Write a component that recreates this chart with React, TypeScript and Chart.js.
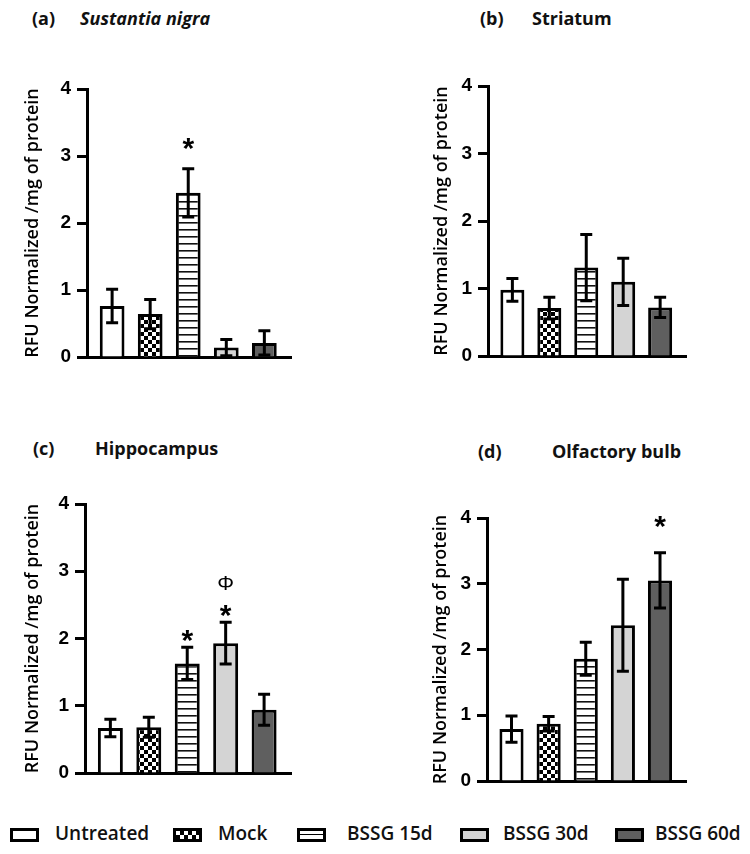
import React, { useEffect, useRef } from 'react';
import { Chart, registerables } from 'chart.js';

Chart.register(...registerables);

// ---------- data ----------
const categories = ['Untreated', 'Mock', 'BSSG 15d', 'BSSG 30d', 'BSSG 60d'];
const yTicks = [0, 1, 2, 3, 4];
const yAxisTitle = 'RFU Normalized /mg of protein';

const nigraMeans = [0.76, 0.64, 2.45, 0.14, 0.21];
const nigraErrors = [0.25, 0.22, 0.36, 0.12, 0.18];
const nigraMarks = [{ index: 2, text: '*', y: 3.21 }];

const striatumMeans = [0.98, 0.71, 1.31, 1.1, 0.72];
const striatumErrors = [0.17, 0.16, 0.49, 0.35, 0.15];
const striatumMarks: { index: number; text: string; y: number }[] = [];

const hippoMeans = [0.67, 0.68, 1.63, 1.93, 0.94];
const hippoErrors = [0.13, 0.15, 0.24, 0.31, 0.23];
const hippoMarks = [
  { index: 2, text: '*', y: 2.08 },
  { index: 3, text: '*', y: 2.45 },
  { index: 3, text: 'Φ', y: 2.84 },
];

const olfactoryMeans = [0.79, 0.87, 1.86, 2.37, 3.05];
const olfactoryErrors = [0.2, 0.11, 0.25, 0.7, 0.42];
const olfactoryMarks = [{ index: 4, text: '*', y: 3.97 }];

// ---------- styles ----------
function checkerPattern(): CanvasPattern | string {
  const c = document.createElement('canvas');
  c.width = 8;
  c.height = 8;
  const g = c.getContext('2d');
  if (!g) return '#888';
  g.fillStyle = '#fff';
  g.fillRect(0, 0, 8, 8);
  g.fillStyle = '#000';
  g.fillRect(0, 0, 4, 4);
  g.fillRect(4, 4, 4, 4);
  return g.createPattern(c, 'repeat') || '#888';
}
function stripePattern(): CanvasPattern | string {
  const c = document.createElement('canvas');
  c.width = 8;
  c.height = 7;
  const g = c.getContext('2d');
  if (!g) return '#ccc';
  g.fillStyle = '#fff';
  g.fillRect(0, 0, 8, 7);
  g.fillStyle = '#111';
  g.fillRect(0, 0, 8, 1.6);
  return g.createPattern(c, 'repeat') || '#ccc';
}

const legendFills = [
  '#ffffff',
  'repeating-conic-gradient(#000 0 25%, #fff 0 50%) 0 0 / 8px 8px',
  'repeating-linear-gradient(to bottom, #fff 0 3px, #000 3px 4.5px, #fff 4.5px 8px)',
  '#d4d4d4',
  '#5f5f5f',
];

type Mark = { index: number; text: string; y: number };
type PanelCfg = {
  label: string;
  title: string;
  italic: boolean;
  means: number[];
  errors: number[];
  marks: Mark[];
  canvas: { l: number; t: number; w: number; h: number };
  area: { l: number; t: number; r: number; b: number };
  yTitleX: number;
  titlePos: { labelX: number; titleX: number; top: number };
};

const panels: PanelCfg[] = [
  {
    label: '(a)', title: 'Sustantia nigra', italic: true,
    means: nigraMeans, errors: nigraErrors, marks: nigraMarks,
    canvas: { l: 0, t: 40, w: 375, h: 360 },
    area: { l: 87, t: 89, r: 291, b: 357 },
    yTitleX: 33,
    titlePos: { labelX: 32, titleX: 80, top: 9 },
  },
  {
    label: '(b)', title: 'Striatum', italic: false,
    means: striatumMeans, errors: striatumErrors, marks: striatumMarks,
    canvas: { l: 375, t: 40, w: 375, h: 360 },
    area: { l: 488, t: 86, r: 686, b: 356 },
    yTitleX: 442,
    titlePos: { labelX: 480, titleX: 532, top: 9 },
  },
  {
    label: '(c)', title: 'Hippocampus', italic: false,
    means: hippoMeans, errors: hippoErrors, marks: hippoMarks,
    canvas: { l: 0, t: 470, w: 375, h: 330 },
    area: { l: 85, t: 504, r: 291, b: 773 },
    yTitleX: 33,
    titlePos: { labelX: 33, titleX: 95, top: 439 },
  },
  {
    label: '(d)', title: 'Olfactory bulb', italic: false,
    means: olfactoryMeans, errors: olfactoryErrors, marks: olfactoryMarks,
    canvas: { l: 375, t: 470, w: 375, h: 330 },
    area: { l: 487, t: 518, r: 686, b: 781 },
    yTitleX: 441,
    titlePos: { labelX: 478, titleX: 552, top: 442 },
  },
];

const TITLE_FONT = 18;

function makeOverlayPlugin(p: PanelCfg) {
  return {
    id: 'errorBarsAndMarks',
    afterDatasetsDraw(chart: any) {
      const { ctx } = chart;
      const meta = chart.getDatasetMeta(0);
      const y = chart.scales.y;
      ctx.save();
      ctx.strokeStyle = '#000';
      ctx.lineWidth = 3;
      meta.data.forEach((bar: any, i: number) => {
        const v = p.means[i];
        const e = p.errors[i];
        const x = bar.x;
        const yTop = y.getPixelForValue(v + e);
        const yBot = y.getPixelForValue(Math.max(0, v - e));
        const cap = 6;
        ctx.beginPath();
        ctx.moveTo(x, yTop);
        ctx.lineTo(x, yBot);
        ctx.moveTo(x - cap, yTop);
        ctx.lineTo(x + cap, yTop);
        ctx.moveTo(x - cap, yBot);
        ctx.lineTo(x + cap, yBot);
        ctx.stroke();
      });
      ctx.fillStyle = '#000';
      ctx.textAlign = 'center';
      ctx.textBaseline = 'alphabetic';
      p.marks.forEach((m) => {
        const bar = meta.data[m.index];
        const yc = y.getPixelForValue(m.y);
        if (m.text === '*') {
          const size = 30;
          ctx.font = `bold ${size}px "Liberation Sans", Arial, sans-serif`;
          ctx.fillText(m.text, bar.x, yc + 0.55 * size);
        } else {
          const size = 21;
          ctx.font = `${size}px "Liberation Sans", Arial, sans-serif`;
          ctx.fillText(m.text, bar.x, yc + 0.36 * size);
        }
      });
      ctx.restore();
    },
  };
}

function Panel({ p }: { p: PanelCfg }) {
  const ref = useRef<HTMLCanvasElement | null>(null);
  useEffect(() => {
    if (!ref.current) return;
    const fills = ['#ffffff', checkerPattern(), stripePattern(), '#d4d4d4', '#5f5f5f'];
    const c = p.canvas;
    const yWidth = p.area.l - c.l;
    const titleLine = TITLE_FONT * 1.2;
    const chart = new Chart(ref.current, {
      type: 'bar',
      data: {
        datasets: [
          {
            data: categories.map((_, i) => ({ x: i, y: p.means[i] })) as any,
            backgroundColor: fills as any,
            borderColor: '#000',
            borderWidth: 3,
            borderSkipped: 'start',
            barPercentage: 0.65,
            categoryPercentage: 1,
          },
        ],
      },
      options: {
        responsive: false,
        animation: false,
        devicePixelRatio: 1,
        layout: {
          padding: {
            left: 0,
            top: p.area.t - c.t,
            right: c.l + c.w - p.area.r,
            bottom: c.t + c.h - p.area.b,
          },
        },
        plugins: {
          legend: { display: false },
          tooltip: { enabled: false },
        },
        scales: {
          x: {
            type: 'linear',
            offset: false,
            min: -0.66,
            max: 4.7,
            ticks: { display: false },
            grid: { display: false },
            border: { display: true, color: '#000', width: 3 },
            afterFit: (s: any) => {
              s.height = 0;
            },
          },
          y: {
            min: 0,
            max: 4,
            afterBuildTicks: (s: any) => {
              s.ticks = yTicks.map((v) => ({ value: v }));
            },
            ticks: {
              color: '#000',
              padding: 6,
              font: { family: '"Liberation Sans", Arial, sans-serif', weight: 'bold', size: 19 },
            },
            grid: {
              drawOnChartArea: false,
              drawTicks: true,
              tickLength: 10,
              tickWidth: 3,
              color: '#000',
            },
            border: { color: '#000', width: 3 },
            title: {
              display: true,
              text: yAxisTitle,
              color: '#000',
              font: { family: '"Open Sans", sans-serif', weight: '600', size: TITLE_FONT },
              padding: { top: p.yTitleX - c.l - titleLine / 2, bottom: 0 },
            },
            afterFit: (s: any) => {
              s.width = yWidth;
            },
          },
        },
      } as any,
      plugins: [makeOverlayPlugin(p)],
    });
    return () => chart.destroy();
  }, [p]);

  return (
    <>
      <canvas
        ref={ref}
        width={p.canvas.w}
        height={p.canvas.h}
        style={{ position: 'absolute', left: p.canvas.l, top: p.canvas.t, width: p.canvas.w, height: p.canvas.h }}
      />
      <div
        style={{
          position: 'absolute',
          left: p.titlePos.labelX,
          top: p.titlePos.top,
          font: 'bold 18px/18px "Open Sans", sans-serif',
          color: '#111',
          whiteSpace: 'nowrap',
        }}
      >
        {p.label}
      </div>
      <div
        style={{
          position: 'absolute',
          left: p.titlePos.titleX,
          top: p.titlePos.top,
          font: `${p.italic ? 'italic ' : ''}bold 18px/18px "Open Sans", sans-serif`,
          color: '#111',
          whiteSpace: 'nowrap',
        }}
      >
        {p.title}
      </div>
    </>
  );
}

const legendBoxX = [10, 173, 297, 460, 615];
const legendTextX = [55, 218, 347, 503, 655];

export default function App() {
  return (
    <div
      style={{
        position: 'absolute',
        left: 0,
        top: 0,
        width: 750,
        height: 854,
        background: '#fff',
        overflow: 'hidden',
      }}
    >
      {panels.map((p) => (
        <Panel key={p.label} p={p} />
      ))}
      {categories.map((name, i) => (
        <React.Fragment key={name}>
          <div
            style={{
              position: 'absolute',
              left: legendBoxX[i],
              top: 828,
              width: 29,
              height: 14,
              boxSizing: 'border-box',
              border: '3px solid #000',
              background: legendFills[i],
            }}
          />
          <div
            style={{
              position: 'absolute',
              left: legendTextX[i],
              top: 824,
              font: '600 19px/19px "Open Sans", sans-serif',
              color: '#111',
              whiteSpace: 'nowrap',
            }}
          >
            {name}
          </div>
        </React.Fragment>
      ))}
    </div>
  );
}
